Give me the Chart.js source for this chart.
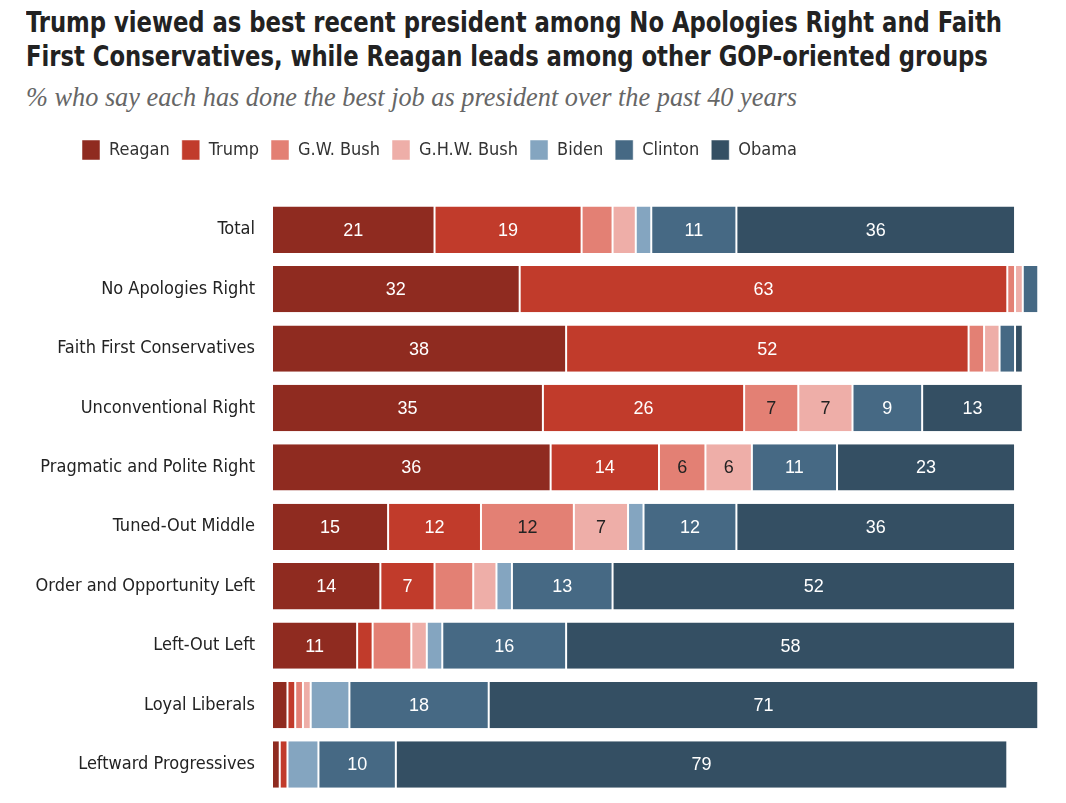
<!DOCTYPE html>
<html>
<head>
<meta charset="utf-8">
<script src="https://cdn.jsdelivr.net/npm/chart.js@4.4.1/dist/chart.umd.min.js"></script>
<style>
  body { margin: 0; background: #fff; width: 1066px; height: 803px; overflow: hidden; position: relative; }
  #titulo { position: absolute; left: 26px; top: 5px; margin: 0; font-family: 'DejaVu Sans Condensed', Roboto, sans-serif; font-weight: bold; font-size: 29px; line-height: 34px; color: #222; white-space: nowrap; transform-origin: 0 0; }
  #sub { position: absolute; left: 26px; top: 83px; margin: 0; font-family: 'Liberation Serif', 'DejaVu Serif', serif; font-style: italic; font-size: 26.3px; color: #666; white-space: nowrap; }
  #wrap { position: absolute; left: 0; top: 128px; width: 1066px; height: 694px; }
</style>
</head>
<body>
<h1 id="titulo"><span id="linha1">Trump viewed as best recent president among No Apologies Right and Faith</span><br>First Conservatives, while Reagan leads among other GOP-oriented groups</h1>
<p id="sub">% who say each has done the best job as president over the past 40 years</p>
<div id="wrap"><canvas id="grafico" width="1066" height="694"></canvas></div>
<script>
// ajusta a largura do título
const linha1 = document.getElementById('linha1')
document.getElementById('titulo').style.transform = 'scaleX(' + (976 / linha1.offsetWidth) + ')'

let ctx = document.getElementById('grafico')

const grupos = ['Total', 'No Apologies Right', 'Faith First Conservatives', 'Unconventional Right', 'Pragmatic and Polite Right', 'Tuned-Out Middle', 'Order and Opportunity Left', 'Left-Out Left', 'Loyal Liberals', 'Leftward Progressives']

const reagan  = [21, 32, 38, 35, 36, 15, 14, 11, 2, 1]
const trump   = [19, 63, 52, 26, 14, 12, 7, 2, 1, 1]
const gwBush  = [4, 1, 2, 7, 6, 12, 5, 5, 1, 0]
const ghwBush = [3, 1, 2, 7, 6, 7, 3, 2, 1, 0]
const biden   = [2, 0, 0, 0, 0, 2, 2, 2, 5, 4]
const clinton = [11, 2, 2, 9, 11, 12, 13, 16, 18, 10]
const obama   = [36, 0, 1, 13, 23, 36, 52, 58, 71, 79]

const cores = ['#8f2b20', '#c13b2b', '#e38074', '#eeaea8', '#84a5c0', '#466984', '#344f63']
const corTexto = ['#fff', '#fff', '#222', '#222', '#222', '#fff', '#fff']

Chart.defaults.font.family = "'DejaVu Sans Condensed', Roboto, sans-serif"
Chart.defaults.font.size = 18
Chart.defaults.color = '#222'

const series = [
  ['Reagan', reagan], ['Trump', trump], ['G.W. Bush', gwBush], ['G.H.W. Bush', ghwBush],
  ['Biden', biden], ['Clinton', clinton], ['Obama', obama]
]

const data = {
  labels: grupos,
  datasets: series.map((s, i) => ({
    label: s[0],
    data: s[1],
    backgroundColor: cores[i],
    borderColor: '#fff',
    borderWidth: { left: 1, right: 1, top: 0, bottom: 0 },
    borderSkipped: false,
    barPercentage: 0.78,
    categoryPercentage: 1
  }))
}

// rótulos dentro das barras
const rotulos = {
  id: 'rotulos',
  afterDatasetsDraw(chart) {
    const c = chart.ctx
    c.save()
    c.font = "18px 'Liberation Sans', Roboto, sans-serif"
    c.textAlign = 'center'
    c.textBaseline = 'middle'
    chart.data.datasets.forEach((ds, i) => {
      chart.getDatasetMeta(i).data.forEach((bar, j) => {
        const v = ds.data[j]
        if (v < 6) return
        c.fillStyle = corTexto[i]
        c.fillText(v, (bar.x + bar.base) / 2, bar.y + 1)
      })
    })
    c.restore()
  }
}

// espaço abaixo da legenda
const espaco = {
  id: 'espaco',
  beforeInit(chart) {
    const fit = chart.legend.fit
    chart.legend.fit = function () {
      fit.bind(chart.legend)()
      this.height += 30
    }
  }
}

// empurra a legenda para a direita
const legendaPos = {
  id: 'legendaPos',
  afterLayout(chart) {
    chart.legend.left = 70
  }
}

const config = {
  type: 'bar',
  data,
  options: {
    indexAxis: 'y',
    responsive: false,
    animation: false,
    layout: { padding: { left: 0, right: 20, top: 0, bottom: 9 } },
    scales: {
      x: { stacked: true, min: 0, max: 100, display: false },
      y: {
        stacked: true,
        grid: { display: false, drawTicks: false },
        border: { display: false },
        ticks: { color: '#222', padding: 17, font: { size: 18 } },
        afterFit(scale) { scale.width = 272 }
      }
    },
    plugins: {
      legend: {
        position: 'top',
        align: 'start',
        labels: { boxWidth: 18, boxHeight: 20, padding: 12, color: '#333', font: { size: 18 } }
      },
      tooltip: { enabled: false }
    }
  },
  plugins: [rotulos, espaco, legendaPos]
}

const graph = new Chart(ctx, config)
</script>
</body>
</html>
